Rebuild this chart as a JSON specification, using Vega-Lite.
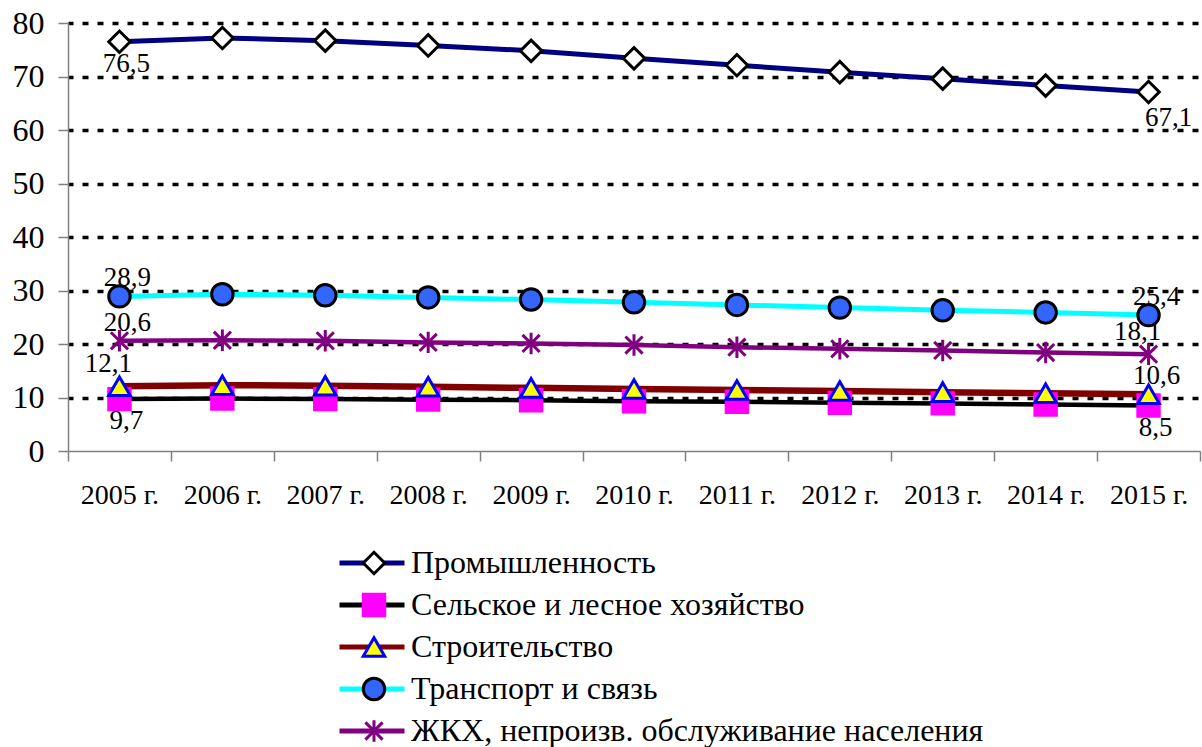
{
  "$schema": "https://vega.github.io/schema/vega-lite/v6.json",
  "width": 1132,
  "height": 428,
  "autosize": "none",
  "padding": {"left": 68, "top": 23, "right": 2, "bottom": 296},
  "config": {
    "font": "Liberation Serif",
    "view": {"stroke": null},
    "locale": {"number": {"decimal": ",", "thousands": " ", "grouping": [3], "currency": ["", ""]}}
  },
  "data": {"values": [
    {"series": "Промышленность", "year": "2005 г.", "value": 76.5},
    {"series": "Промышленность", "year": "2006 г.", "value": 77.2},
    {"series": "Промышленность", "year": "2007 г.", "value": 76.7},
    {"series": "Промышленность", "year": "2008 г.", "value": 75.8},
    {"series": "Промышленность", "year": "2009 г.", "value": 74.8},
    {"series": "Промышленность", "year": "2010 г.", "value": 73.4},
    {"series": "Промышленность", "year": "2011 г.", "value": 72.1},
    {"series": "Промышленность", "year": "2012 г.", "value": 70.8},
    {"series": "Промышленность", "year": "2013 г.", "value": 69.6},
    {"series": "Промышленность", "year": "2014 г.", "value": 68.3},
    {"series": "Промышленность", "year": "2015 г.", "value": 67.1},
    {"series": "Сельское и лесное хозяйство", "year": "2005 г.", "value": 9.7},
    {"series": "Сельское и лесное хозяйство", "year": "2006 г.", "value": 9.8},
    {"series": "Сельское и лесное хозяйство", "year": "2007 г.", "value": 9.7},
    {"series": "Сельское и лесное хозяйство", "year": "2008 г.", "value": 9.6},
    {"series": "Сельское и лесное хозяйство", "year": "2009 г.", "value": 9.5},
    {"series": "Сельское и лесное хозяйство", "year": "2010 г.", "value": 9.3},
    {"series": "Сельское и лесное хозяйство", "year": "2011 г.", "value": 9.2},
    {"series": "Сельское и лесное хозяйство", "year": "2012 г.", "value": 9.0},
    {"series": "Сельское и лесное хозяйство", "year": "2013 г.", "value": 8.9},
    {"series": "Сельское и лесное хозяйство", "year": "2014 г.", "value": 8.7},
    {"series": "Сельское и лесное хозяйство", "year": "2015 г.", "value": 8.5},
    {"series": "Строительство", "year": "2005 г.", "value": 12.1},
    {"series": "Строительство", "year": "2006 г.", "value": 12.3},
    {"series": "Строительство", "year": "2007 г.", "value": 12.2},
    {"series": "Строительство", "year": "2008 г.", "value": 12.0},
    {"series": "Строительство", "year": "2009 г.", "value": 11.8},
    {"series": "Строительство", "year": "2010 г.", "value": 11.6},
    {"series": "Строительство", "year": "2011 г.", "value": 11.4},
    {"series": "Строительство", "year": "2012 г.", "value": 11.2},
    {"series": "Строительство", "year": "2013 г.", "value": 11.0},
    {"series": "Строительство", "year": "2014 г.", "value": 10.8},
    {"series": "Строительство", "year": "2015 г.", "value": 10.6},
    {"series": "Транспорт и связь", "year": "2005 г.", "value": 28.9},
    {"series": "Транспорт и связь", "year": "2006 г.", "value": 29.3},
    {"series": "Транспорт и связь", "year": "2007 г.", "value": 29.1},
    {"series": "Транспорт и связь", "year": "2008 г.", "value": 28.7},
    {"series": "Транспорт и связь", "year": "2009 г.", "value": 28.3},
    {"series": "Транспорт и связь", "year": "2010 г.", "value": 27.8},
    {"series": "Транспорт и связь", "year": "2011 г.", "value": 27.3},
    {"series": "Транспорт и связь", "year": "2012 г.", "value": 26.8},
    {"series": "Транспорт и связь", "year": "2013 г.", "value": 26.3},
    {"series": "Транспорт и связь", "year": "2014 г.", "value": 25.9},
    {"series": "Транспорт и связь", "year": "2015 г.", "value": 25.4},
    {"series": "ЖКХ, непроизв. обслуживание населения", "year": "2005 г.", "value": 20.6},
    {"series": "ЖКХ, непроизв. обслуживание населения", "year": "2006 г.", "value": 20.7},
    {"series": "ЖКХ, непроизв. обслуживание населения", "year": "2007 г.", "value": 20.6},
    {"series": "ЖКХ, непроизв. обслуживание населения", "year": "2008 г.", "value": 20.3},
    {"series": "ЖКХ, непроизв. обслуживание населения", "year": "2009 г.", "value": 20.1},
    {"series": "ЖКХ, непроизв. обслуживание населения", "year": "2010 г.", "value": 19.8},
    {"series": "ЖКХ, непроизв. обслуживание населения", "year": "2011 г.", "value": 19.4},
    {"series": "ЖКХ, непроизв. обслуживание населения", "year": "2012 г.", "value": 19.1},
    {"series": "ЖКХ, непроизв. обслуживание населения", "year": "2013 г.", "value": 18.8},
    {"series": "ЖКХ, непроизв. обслуживание населения", "year": "2014 г.", "value": 18.4},
    {"series": "ЖКХ, непроизв. обслуживание населения", "year": "2015 г.", "value": 18.1}
  ]},
  "encoding": {
    "x": {
      "field": "year", "type": "ordinal", "sort": null,
      "scale": {"type": "band", "paddingInner": 0, "paddingOuter": 0},
      "axis": {
        "title": null, "tickBand": "extent", "grid": false,
        "domainColor": "#808080", "domainWidth": 1.5,
        "tickColor": "#808080", "tickWidth": 1.5, "tickSize": 10,
        "labelFont": "Liberation Serif", "labelFontSize": 28, "labelPadding": 20,
        "labelAngle": 0, "labelColor": "black"
      }
    },
    "y": {
      "field": "value", "type": "quantitative",
      "scale": {"domain": [0, 80], "nice": false},
      "axis": {
        "title": null, "values": [0, 10, 20, 30, 40, 50, 60, 70, 80],
        "grid": true, "gridColor": "black", "gridDash": [6, 9], "gridWidth": 3.5, "gridDashOffset": 1,
        "gridOpacity": {"condition": {"test": "datum.value === 0", "value": 0}, "value": 1},
        "domainColor": "#808080", "domainWidth": 1.5,
        "tickColor": "#808080", "tickWidth": 1.5, "tickSize": 10,
        "labelFont": "Liberation Serif", "labelFontSize": 32, "labelPadding": 14, "labelColor": "black"
      }
    }
  },
  "layer": [
    {
      "mark": {"type": "line"},
      "encoding": {
        "color": {
          "field": "series", "type": "nominal",
          "sort": ["Промышленность", "Сельское и лесное хозяйство", "Строительство", "Транспорт и связь", "ЖКХ, непроизв. обслуживание населения"],
          "scale": {"range": ["#000080", "#000000", "#800000", "#00FFFF", "#800080"]},
          "legend": {
            "orient": "none", "legendX": 269, "legendY": 519, "title": null,
            "symbolType": "stroke", "symbolSize": 4225, "symbolStrokeWidth": 5,
            "labelFont": "Liberation Serif", "labelFontSize": 32, "labelOffset": 4, "labelColor": "black",
            "labelLimit": 900, "clipHeight": 42, "rowPadding": 0, "padding": 0, "symbolOffset": 0
          }
        },
        "strokeWidth": {
          "field": "series", "type": "nominal",
          "sort": ["Промышленность", "Сельское и лесное хозяйство", "Строительство", "Транспорт и связь", "ЖКХ, непроизв. обслуживание населения"],
          "scale": {"type": "ordinal", "range": [5, 4.5, 6.5, 5, 4.5]},
          "legend": null
        }
      }
    },
    {
      "mark": {"type": "point", "filled": true, "size": 460, "strokeWidth": 3, "opacity": 1},
      "encoding": {
        "shape": {
          "field": "series", "type": "nominal",
          "scale": {
            "domain": ["Промышленность", "Сельское и лесное хозяйство", "Строительство", "Транспорт и связь", "ЖКХ, непроизв. обслуживание населения"],
            "range": ["diamond", "square", "triangle-up", "circle", "M0,-1L0,1M-0.8,-0.8L0.8,0.8M-0.8,0.8L0.8,-0.8"]
          },
          "legend": {
            "orient": "none", "legendX": 290, "legendY": 519, "title": null,
            "symbolSize": 460, "symbolStrokeWidth": 3, "labelExpr": "''",
            "labelFontSize": 32, "clipHeight": 42, "rowPadding": 0, "padding": 0, "symbolOffset": 0
          }
        },
        "fill": {
          "field": "series", "type": "nominal",
          "scale": {
            "domain": ["Промышленность", "Сельское и лесное хозяйство", "Строительство", "Транспорт и связь", "ЖКХ, непроизв. обслуживание населения"],
            "range": ["#FFFFFF", "#FF00FF", "#FFFF00", "#3366FF", "transparent"]
          },
          "legend": {
            "orient": "none", "legendX": 290, "legendY": 519, "title": null,
            "symbolSize": 460, "symbolStrokeWidth": 3, "labelExpr": "''",
            "labelFontSize": 32, "clipHeight": 42, "rowPadding": 0, "padding": 0, "symbolOffset": 0
          }
        },
        "stroke": {
          "field": "series", "type": "nominal",
          "scale": {
            "domain": ["Промышленность", "Сельское и лесное хозяйство", "Строительство", "Транспорт и связь", "ЖКХ, непроизв. обслуживание населения"],
            "range": ["#000000", "#FF00FF", "#0000FF", "#000000", "#800080"]
          },
          "legend": {
            "orient": "none", "legendX": 290, "legendY": 519, "title": null,
            "symbolSize": 460, "symbolStrokeWidth": 3, "labelExpr": "''",
            "labelFontSize": 32, "clipHeight": 42, "rowPadding": 0, "padding": 0, "symbolOffset": 0
          }
        }
      }
    },
    {
      "transform": [{"filter": "(datum.series === 'Промышленность' && datum.year === '2005 г.') || (datum.series === 'Сельское и лесное хозяйство' && (datum.year === '2005 г.' || datum.year === '2015 г.'))"}],
      "mark": {"type": "text", "font": "Liberation Serif", "fontSize": 27, "color": "black", "align": "center", "baseline": "middle", "dx": 7, "dy": 22},
      "encoding": {"text": {"field": "value", "type": "quantitative", "format": ".1f"}}
    },
    {
      "transform": [{"filter": "datum.series === 'Промышленность' && datum.year === '2015 г.'"}],
      "mark": {"type": "text", "font": "Liberation Serif", "fontSize": 27, "color": "black", "align": "center", "baseline": "middle", "dx": 20, "dy": 26},
      "encoding": {"text": {"field": "value", "type": "quantitative", "format": ".1f"}}
    },
    {
      "transform": [{"filter": "(datum.series === 'Транспорт и связь' && (datum.year === '2005 г.' || datum.year === '2015 г.')) || (datum.series === 'ЖКХ, непроизв. обслуживание населения' && datum.year === '2005 г.') || (datum.series === 'Строительство' && datum.year === '2015 г.')"}],
      "mark": {"type": "text", "font": "Liberation Serif", "fontSize": 27, "color": "black", "align": "center", "baseline": "middle", "dx": 8, "dy": -18},
      "encoding": {"text": {"field": "value", "type": "quantitative", "format": ".1f"}}
    },
    {
      "transform": [{"filter": "(datum.series === 'ЖКХ, непроизв. обслуживание населения' && datum.year === '2015 г.') || (datum.series === 'Строительство' && datum.year === '2005 г.')"}],
      "mark": {"type": "text", "font": "Liberation Serif", "fontSize": 27, "color": "black", "align": "center", "baseline": "middle", "dx": -11, "dy": -22},
      "encoding": {"text": {"field": "value", "type": "quantitative", "format": ".1f"}}
    }
  ]
}
